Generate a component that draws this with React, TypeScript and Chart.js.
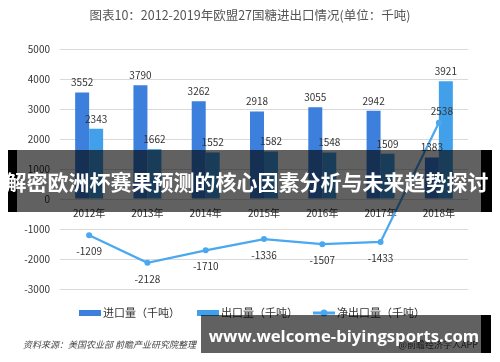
import React, { useEffect, useRef } from 'react';
import { Chart, registerables } from 'chart.js';

Chart.register(...registerables);

const titleText = '图表10：2012-2019年欧盟27国糖进出口情况(单位：千吨)';
const categories = ['2012年', '2013年', '2014年', '2015年', '2016年', '2017年', '2018年'];
const importValues = [3552, 3790, 3262, 2918, 3055, 2942, 1383];
const exportValues = [2343, 1662, 1552, 1582, 1548, 1509, 3921];
const netExportValues = [-1209, -2128, -1710, -1336, -1507, -1433, 2538];
const seriesNames = ['进口量（千吨）', '出口量（千吨）', '净出口量（千吨）'];
const yMin = -3000;
const yMax = 5000;
const yStep = 1000;
const sourceText = '资料来源：美国农业部 前瞻产业研究院整理';
const creditText = '@前瞻经济学人APP';
const bannerText = '解密欧洲杯赛果预测的核心因素分析与未来趋势探讨';
const urlText = 'www.welcome-biyingsports.com';

const IMPORT_COLOR = '#3c7fdc';
const EXPORT_COLOR = '#42a0ea';
const NET_COLOR = '#4aa8f0';
const SERIES_COLORS = [IMPORT_COLOR, EXPORT_COLOR, NET_COLOR];
const FONT = '"Noto Sans CJK SC", "Noto Sans", sans-serif';

const valueLabels = {
  id: 'valueLabels',
  afterDatasetsDraw(chart: any) {
    const ctx = chart.ctx;
    ctx.save();
    ctx.font = `10px ${FONT}`;
    ctx.fillStyle = '#333333';
    ctx.textAlign = 'center';
    ctx.textBaseline = 'middle';
    chart.data.datasets.forEach((ds: any, i: number) => {
      const meta = chart.getDatasetMeta(i);
      meta.data.forEach((el: any, j: number) => {
        const v = ds.data[j];
        if (ds.type === 'line') {
          const y = v >= 0 ? el.y - 12 : el.y + 16;
          ctx.fillText(String(v), el.x + (v >= 0 ? 3 : 0), y);
        } else {
          ctx.fillText(String(v), el.x, el.y - 10);
        }
      });
    });
    ctx.restore();
  },
};

// custom legend drawn under the plot
const customLegend = {
  id: 'customLegend',
  afterDraw(chart: any) {
    const ctx = chart.ctx;
    const y = 313;
    const starts = [79, 197, 313];
    ctx.save();
    ctx.font = `11px ${FONT}`;
    ctx.textBaseline = 'middle';
    ctx.textAlign = 'left';
    seriesNames.forEach((name, i) => {
      const x = starts[i];
      const color = SERIES_COLORS[i];
      if (i < 2) {
        ctx.fillStyle = color;
        ctx.fillRect(x, y - 3, 22, 6);
      } else {
        ctx.strokeStyle = color;
        ctx.lineWidth = 3;
        ctx.beginPath();
        ctx.moveTo(x, y);
        ctx.lineTo(x + 22, y);
        ctx.stroke();
        ctx.fillStyle = color;
        ctx.beginPath();
        ctx.arc(x + 11, y, 3.5, 0, Math.PI * 2);
        ctx.fill();
      }
      ctx.fillStyle = '#333333';
      ctx.fillText(name, x + 24, y);
    });
    ctx.restore();
  },
};

export default function App() {
  const ref = useRef<HTMLCanvasElement>(null);

  useEffect(() => {
    const chart = new Chart(ref.current!, {
      type: 'bar',
      data: {
        labels: categories,
        datasets: [
          {
            type: 'bar',
            label: seriesNames[0],
            data: importValues,
            backgroundColor: IMPORT_COLOR,
            categoryPercentage: 0.48,
            barPercentage: 1,
            order: 1,
          },
          {
            type: 'bar',
            label: seriesNames[1],
            data: exportValues,
            backgroundColor: EXPORT_COLOR,
            categoryPercentage: 0.48,
            barPercentage: 1,
            order: 1,
          },
          {
            type: 'line',
            label: seriesNames[2],
            data: netExportValues,
            borderColor: NET_COLOR,
            backgroundColor: NET_COLOR,
            borderWidth: 2.25,
            pointRadius: 3,
            pointBackgroundColor: NET_COLOR,
            pointBorderWidth: 0,
            tension: 0,
            order: 0,
          } as any,
        ],
      },
      options: {
        responsive: false,
        animation: false,
        layout: { padding: { top: 49, left: 0, right: 32, bottom: 73 } },
        plugins: {
          title: { display: false },
          tooltip: { enabled: false },
          legend: { display: false },
        },
        scales: {
          x: {
            position: { y: 0 } as any,
            grid: { display: false, drawTicks: false },
            border: { display: false },
            ticks: { color: '#333333', font: { family: FONT, size: 10 }, padding: 8 },
          },
          y: {
            min: yMin,
            max: yMax,
            afterFit: (scale: any) => {
              scale.width = 60;
            },
            grid: { color: '#d9d9d9', lineWidth: 1, drawTicks: false },
            border: { display: false },
            ticks: {
              stepSize: yStep,
              color: '#333333',
              font: { family: FONT, size: 10 },
              padding: 10,
              callback: (v: any) => String(v),
            },
          },
        },
      },
      plugins: [valueLabels, customLegend],
    });
    return () => chart.destroy();
  }, []);

  return (
    <div style={{ position: 'fixed', left: 0, top: 0, width: 500, height: 362, background: '#ffffff', overflow: 'hidden', fontFamily: FONT }}>
      <canvas ref={ref} width={500} height={362} style={{ position: 'absolute', left: 0, top: 0 }} />
      <div style={{ position: 'absolute', left: 0, top: 6, width: 500, textAlign: 'center', fontSize: 12.5, color: '#555555', lineHeight: '18px' }}>
        {titleText}
      </div>
      <div style={{ position: 'absolute', left: 23, top: 338, fontSize: 9, fontStyle: 'italic', color: '#444444', lineHeight: '14px' }}>
        {sourceText}
      </div>
      <div style={{ position: 'absolute', right: 22, top: 338, fontSize: 9, color: '#444444', lineHeight: '14px' }}>
        {creditText}
      </div>
      {/* overlay band */}
      <div style={{ position: 'absolute', left: 8, top: 150, width: 9, height: 62, background: '#000000' }} />
      <div style={{ position: 'absolute', left: 17, top: 150, width: 464, height: 62, background: 'rgba(0,0,0,0.62)' }} />
      <div style={{ position: 'absolute', left: 481, top: 150, width: 11, height: 62, background: '#000000' }} />
      <div style={{ position: 'absolute', left: 0, top: 166, width: 494, textAlign: 'center', fontSize: 21, fontWeight: 700, color: '#ffffff', lineHeight: '30px', whiteSpace: 'nowrap' }}>
        {bannerText}
      </div>
      {/* url banner */}
      <div style={{ position: 'absolute', left: 201, top: 315, width: 280, height: 38, background: 'rgba(0,0,0,0.62)' }} />
      <div style={{ position: 'absolute', left: 481, top: 315, width: 10, height: 38, background: '#000000' }} />
      <div style={{ position: 'absolute', left: 201, top: 323, width: 286, textAlign: 'center', fontSize: 16.7, fontWeight: 700, color: '#ffffff', lineHeight: '26px', whiteSpace: 'nowrap', fontFamily: '"Open Sans", sans-serif' }}>
        {urlText}
      </div>
    </div>
  );
}
